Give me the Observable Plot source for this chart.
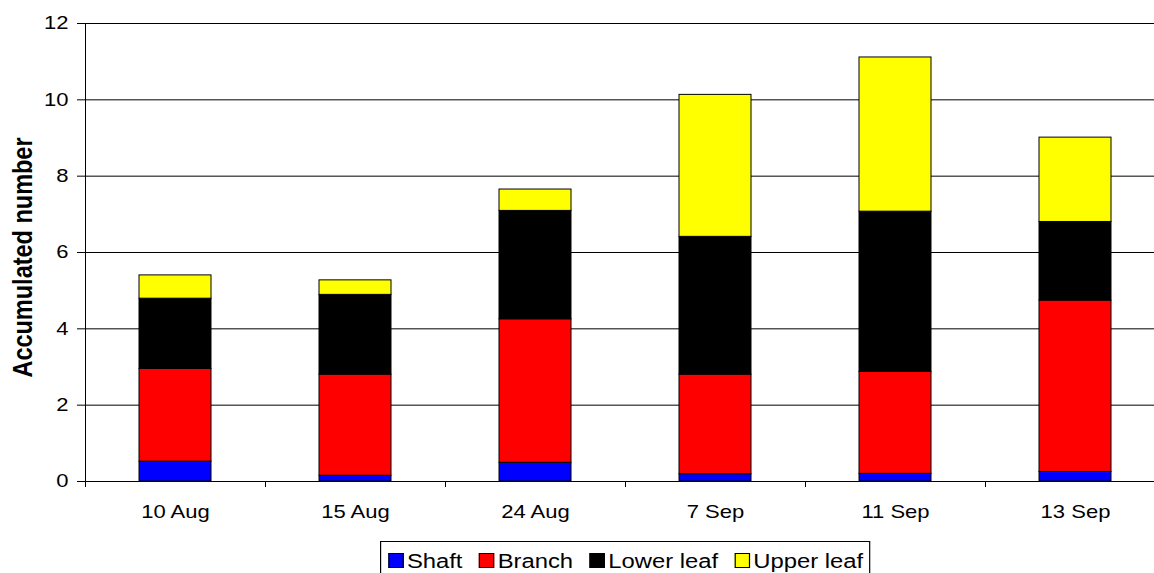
<!DOCTYPE html>
<html><head><meta charset="utf-8">
<script src="https://cdn.jsdelivr.net/npm/d3@7"></script>
<script src="https://cdn.jsdelivr.net/npm/@observablehq/plot@0.6"></script>
<style>
html,body{margin:0;padding:0;background:#fff;overflow:hidden;}
#wrap{position:relative;width:1154px;height:573px;overflow:hidden;font-family:"Liberation Sans",Arial,sans-serif;}
#legend{position:absolute;left:380px;top:541px;transform:scaleX(1.19);transform-origin:0 0;border:1px solid #000;padding:8.5px 5px 10px 6px;font-size:20px;line-height:20px;white-space:nowrap;color:#000;background:#fff;}
.item{display:inline-block;margin-right:14px}
.item:last-child{margin-right:0}
.sw{display:inline-block;width:12.6px;height:15px;border:1px solid #000;box-sizing:border-box;margin-right:3px;vertical-align:0}
</style></head>
<body>
<div id="wrap"></div>
<script>
const dates = ["10 Aug", "15 Aug", "24 Aug", "7 Sep", "11 Sep", "13 Sep"];
const parts = ["Shaft", "Branch", "Lower leaf", "Upper leaf"];
const shaft  = [0.52, 0.15, 0.49, 0.19, 0.20, 0.25];
const branch = [2.43, 2.65, 3.76, 2.61, 2.67, 4.49];
const lower  = [1.84, 2.09, 2.84, 3.61, 4.20, 2.06];
const upper  = [0.61, 0.38, 0.56, 3.72, 4.04, 2.21];
const colors = ["#0000ff", "#ff0000", "#000000", "#ffff00"];
const yTicks = [0, 2, 4, 6, 8, 10, 12];
const yLabel = "Accumulated number";

const series = [shaft, branch, lower, upper];
const rows = dates.flatMap((d, i) => parts.map((p, j) => ({date: d, part: p, value: series[j][i]})));

const W = 1154, H = 535, ML = 85, MR = -11;
const step = (W - ML - MR) / dates.length;

const chart = Plot.plot({
  width: W, height: H,
  marginLeft: ML, marginRight: MR, marginTop: 23, marginBottom: 54,
  style: {fontFamily: '"Liberation Sans", Arial, sans-serif', fontSize: "18.5px", color: "#000", background: "transparent"},
  x: {domain: dates, paddingInner: 0.6, paddingOuter: 0.3, label: null},
  y: {domain: [0, 12], label: null},
  color: {domain: parts, range: colors},
  marks: [
    Plot.ruleY(yTicks, {stroke: "#000", strokeOpacity: 1}),
    Plot.barY(rows, {x: "date", y: "value", fill: "part", stroke: "#000", strokeWidth: 1}),
    Plot.ruleX([dates[0]], {dx: -step / 2, y1: 0, y2: 12, stroke: "#000"}),
    Plot.axisY({ticks: yTicks, tickSize: 8, tickPadding: 9, label: null, tickFormat: d => String(d), stroke: "#000"}),
    Plot.axisX({tickSize: 6, dx: -step / 2, tickFormat: () => "", label: null, stroke: "#000"}),
    Plot.axisX({tickSize: 0, tickPadding: 23, label: null}),
    Plot.text([yLabel], {frameAnchor: "left", textAnchor: "middle", rotate: -90, dx: -62.5, dy: 5, fontWeight: "bold", fontSize: 23.5, fill: "#000"})
  ]
});
const wrap = document.getElementById("wrap");
wrap.appendChild(chart);

// horizontal stretch of text (the original chart is stretched horizontally)
const SX = 1.19;
chart.querySelectorAll("text").forEach(t => {
  if (!t.textContent) return;
  const bb = t.getBBox();
  const tr = t.getAttribute("transform") || "";
  let extra;
  if (/rotate/.test(tr)) {
    const ay = bb.y + bb.height / 2;
    extra = `translate(0,${ay}) scale(1,${SX}) translate(0,${-ay})`;
  } else {
    const anchor = getComputedStyle(t).textAnchor;
    const ax = anchor === "end" ? bb.x + bb.width : anchor === "middle" ? bb.x + bb.width / 2 : bb.x;
    extra = `translate(${ax},0) scale(${SX},1) translate(${-ax},0)`;
  }
  t.setAttribute("transform", (tr ? tr + " " : "") + extra);
});

// legend
const legend = document.createElement("div");
legend.id = "legend";
parts.forEach((p, j) => {
  const item = document.createElement("span");
  item.className = "item";
  const sw = document.createElement("span");
  sw.className = "sw";
  sw.style.background = colors[j];
  item.appendChild(sw);
  item.appendChild(document.createTextNode(p));
  legend.appendChild(item);
});
wrap.appendChild(legend);
</script>
</body></html>
